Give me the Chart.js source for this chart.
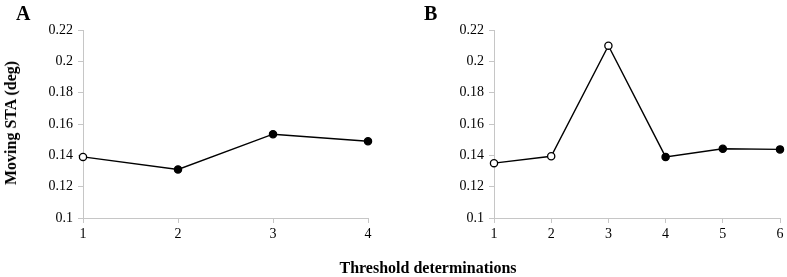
<!DOCTYPE html>
<html>
<head>
<meta charset="utf-8">
<script src="https://cdn.jsdelivr.net/npm/chart.js@4/dist/chart.umd.min.js"></script>
<style>
  body { margin: 0; background: #fff; width: 787px; height: 277px; position: relative; overflow: hidden; font-family: "Liberation Serif", serif; }
  .panel { position: absolute; top: 0; height: 277px; }
  .lbl { position: absolute; font-weight: bold; color: #000; white-space: nowrap; }
</style>
</head>
<body>
<div class="panel" style="left:0;width:395px"><canvas id="chartA"></canvas></div>
<div class="panel" style="left:395px;width:392px"><canvas id="chartB"></canvas></div>
<div class="lbl" style="left:16px;top:2px;font-size:20px">A</div>
<div class="lbl" style="left:424px;top:2px;font-size:20px">B</div>
<div class="lbl" style="left:11px;top:123px;font-size:16px;transform:translate(-50%,-50%) rotate(-90deg)">Moving STA (deg)</div>
<div class="lbl" style="left:428px;top:268px;font-size:16px;transform:translate(-50%,-50%)">Threshold determinations</div>
<script>
// panel A
const labelsA = ['1', '2', '3', '4'];
const valuesA = [0.139, 0.131, 0.1535, 0.149];
const filledA = [false, true, true, true];

// panel B
const labelsB = ['1', '2', '3', '4', '5', '6'];
const valuesB = [0.135, 0.1394, 0.210, 0.139, 0.1442, 0.1438];
const filledB = [false, false, false, true, true, true];

const yTicks = [0.1, 0.12, 0.14, 0.16, 0.18, 0.2, 0.22];

const axisColor = '#c6c6c6';
const tickFont = { family: 'Liberation Serif', size: 14 };

function makeChart(id, labels, values, filled, yWidth, padRight) {
  const ctx = document.getElementById(id).getContext('2d');
  return new Chart(ctx, {
    type: 'line',
    data: {
      labels: labels,
      datasets: [{
        data: values,
        borderColor: '#000',
        borderWidth: 1.4,
        pointRadius: 3.6,
        pointHoverRadius: 3.6,
        pointBorderWidth: 1.3,
        pointBorderColor: '#000',
        pointBackgroundColor: filled.map(f => f ? '#000' : '#fff'),
        tension: 0
      }]
    },
    options: {
      responsive: false,
      animation: false,
      layout: { padding: { top: 30, right: padRight, bottom: 0, left: 0 } },
      plugins: { legend: { display: false }, tooltip: { enabled: false } },
      scales: {
        x: {
          type: 'category',
          offset: false,
          grid: { drawOnChartArea: false, color: axisColor, tickLength: 5 },
          border: { color: axisColor, width: 1 },
          ticks: { color: '#000', font: tickFont, padding: 3, maxRotation: 0 },
          afterFit: s => { s.height = 59; }
        },
        y: {
          min: 0.1,
          max: 0.22,
          grid: { drawOnChartArea: false, color: axisColor, tickLength: 5 },
          border: { color: axisColor, width: 1 },
          afterBuildTicks: s => { s.ticks = yTicks.map(v => ({ value: v })); },
          ticks: {
            color: '#000',
            font: tickFont,
            padding: 5,
            callback: v => String(+v.toFixed(2))
          },
          afterFit: s => { s.width = yWidth; }
        }
      }
    }
  });
}

document.getElementById('chartA').width = 395;
document.getElementById('chartA').height = 277;
document.getElementById('chartB').width = 392;
document.getElementById('chartB').height = 277;

makeChart('chartA', labelsA, valuesA, filledA, 83, 27);
makeChart('chartB', labelsB, valuesB, filledB, 99, 7);
</script>
</body>
</html>
